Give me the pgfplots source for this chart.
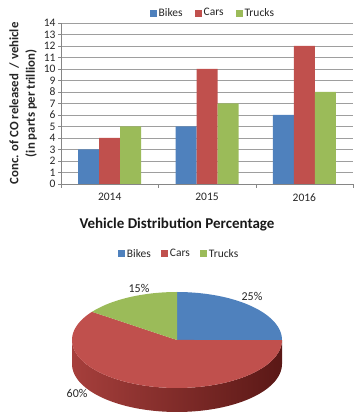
\documentclass[border=0pt]{standalone}
\usepackage{fontspec}
\setmainfont{Carlito}
\usepackage{pgfplots}
\pgfplotsset{compat=1.18}
\definecolor{cblue}{HTML}{4F81BD}
\definecolor{cred}{HTML}{C0504D}
\definecolor{cgreen}{HTML}{9BBB59}
\definecolor{axgray}{HTML}{868686}
\definecolor{sidel}{HTML}{A63F3C}
\definecolor{sider}{HTML}{5A1816}
\begin{document}
\begin{tikzpicture}
\path[use as bounding box] (0pt,0pt) rectangle (356pt,419pt);
% ---------------- bar chart ----------------
\begin{axis}[
  at={(61pt,235pt)}, anchor=south west,
  scale only axis, width=292pt, height=161pt,
  ybar=0pt, bar width=21pt,
  xmin=-0.5, xmax=2.5, ymin=0, ymax=14,
  xtick={0,1,2}, xticklabels={2014,2015,2016},
  minor xtick={-0.5,0.5,1.5,2.5},
  major x tick style={draw=none},
  minor x tick style={axgray},
  ytick={0,1,...,14},
  y tick style={axgray},
  tick align=outside,
  major tick length=3pt, minor tick length=4pt,
  ymajorgrids, grid style={axgray!80, line width=0.6pt},
  axis x line*=bottom, axis y line*=left,
  axis line style={-, axgray, line width=0.6pt},
  tick label style={font=\fontsize{11.5}{13}\selectfont, text=black!85},
  /pgf/number format/assume math mode=true,
  xticklabel style={yshift=-3pt},
  yticklabel style={xshift=1pt},
  ylabel={Conc. of CO released \ / vehicle\\(in parts per trillion)},
  ylabel style={at={(axis description cs:-0.13,0.5)}, anchor=center, align=center,
    font=\bfseries\fontsize{12.8}{16.5}\selectfont, text=black!85},
  legend style={at={(0.52,1.062)}, anchor=center, legend columns=-1, draw=none,
    font=\fontsize{11.5}{13}\selectfont, text=black!85,
    /tikz/every even column/.append style={column sep=10pt}},
  legend image code/.code={\fill[#1, draw=none] (0pt,-3.5pt) rectangle (7pt,3.5pt);},
]
\addplot[fill=cblue, draw=none] coordinates {(0,3) (1,5) (2,6)};
\addplot[fill=cred, draw=none] coordinates {(0,4) (1,10) (2,12)};
\addplot[fill=cgreen, draw=none] coordinates {(0,5) (1,7) (2,8)};
\legend{Bikes, Cars, Trucks}
\end{axis}
% ---------------- pie chart ----------------
\node[font=\bfseries\fontsize{15}{18}\selectfont, text=black!90] at (177pt,194pt) {Vehicle Distribution Percentage};
% Shares: Bikes 25%, Cars 60%, Trucks 15%  -> angles 90, 216, 54 degrees (clockwise from top)
\begin{axis}[
  at={(177pt,79pt)}, anchor=center,
  scale only axis, width=210pt, height=96pt,
  xmin=-1, xmax=1, ymin=-1, ymax=1,
  hide axis, clip=false,
  legend style={at={(0.51,1.396)}, anchor=center, legend columns=-1, draw=none,
    font=\fontsize{11.5}{13}\selectfont, text=black!85,
    /tikz/every even column/.append style={column sep=8pt}},
  legend image code/.code={\fill[#1, draw=none] (0pt,-3.5pt) rectangle (7pt,3.5pt);},
]
\addlegendimage{fill=cblue, draw=none}
\addlegendimage{fill=cred, draw=none}
\addlegendimage{fill=cgreen, draw=none}
% side wall (front half, all in the Cars slice)
\addplot[draw=none, left color=sidel, right color=sider, domain=180:360, samples=60]
  ({cos(x)},{sin(x)}) -- plot[domain=360:180, samples=60] ({cos(\x)},{sin(\x)-0.5}) -- cycle;
% Bikes: 90 -> 0 deg (25%)
\addplot[draw=none, fill=cblue, domain=0:90, samples=40]
  ({cos(x)},{sin(x)}) -- (0,0) -- cycle;
% Cars: 144 -> 360 deg (60%)
\addplot[draw=none, fill=cred, domain=144:360, samples=80]
  ({cos(x)},{sin(x)}) -- (0,0) -- cycle;
% Trucks: 90 -> 144 deg (15%)
\addplot[draw=none, fill=cgreen, domain=90:144, samples=30]
  ({cos(x)},{sin(x)}) -- (0,0) -- cycle;
\legend{Bikes, Cars, Trucks}
\node[font=\fontsize{12}{14}\selectfont, text=black!85] at (0.714,0.917) {25\%};
\node[font=\fontsize{12}{14}\selectfont, text=black!85] at (-0.362,1.083) {15\%};
\node[font=\fontsize{12}{14}\selectfont, text=black!85] at (-0.952,-1.104) {60\%};
\end{axis}
\end{tikzpicture}
\end{document}
